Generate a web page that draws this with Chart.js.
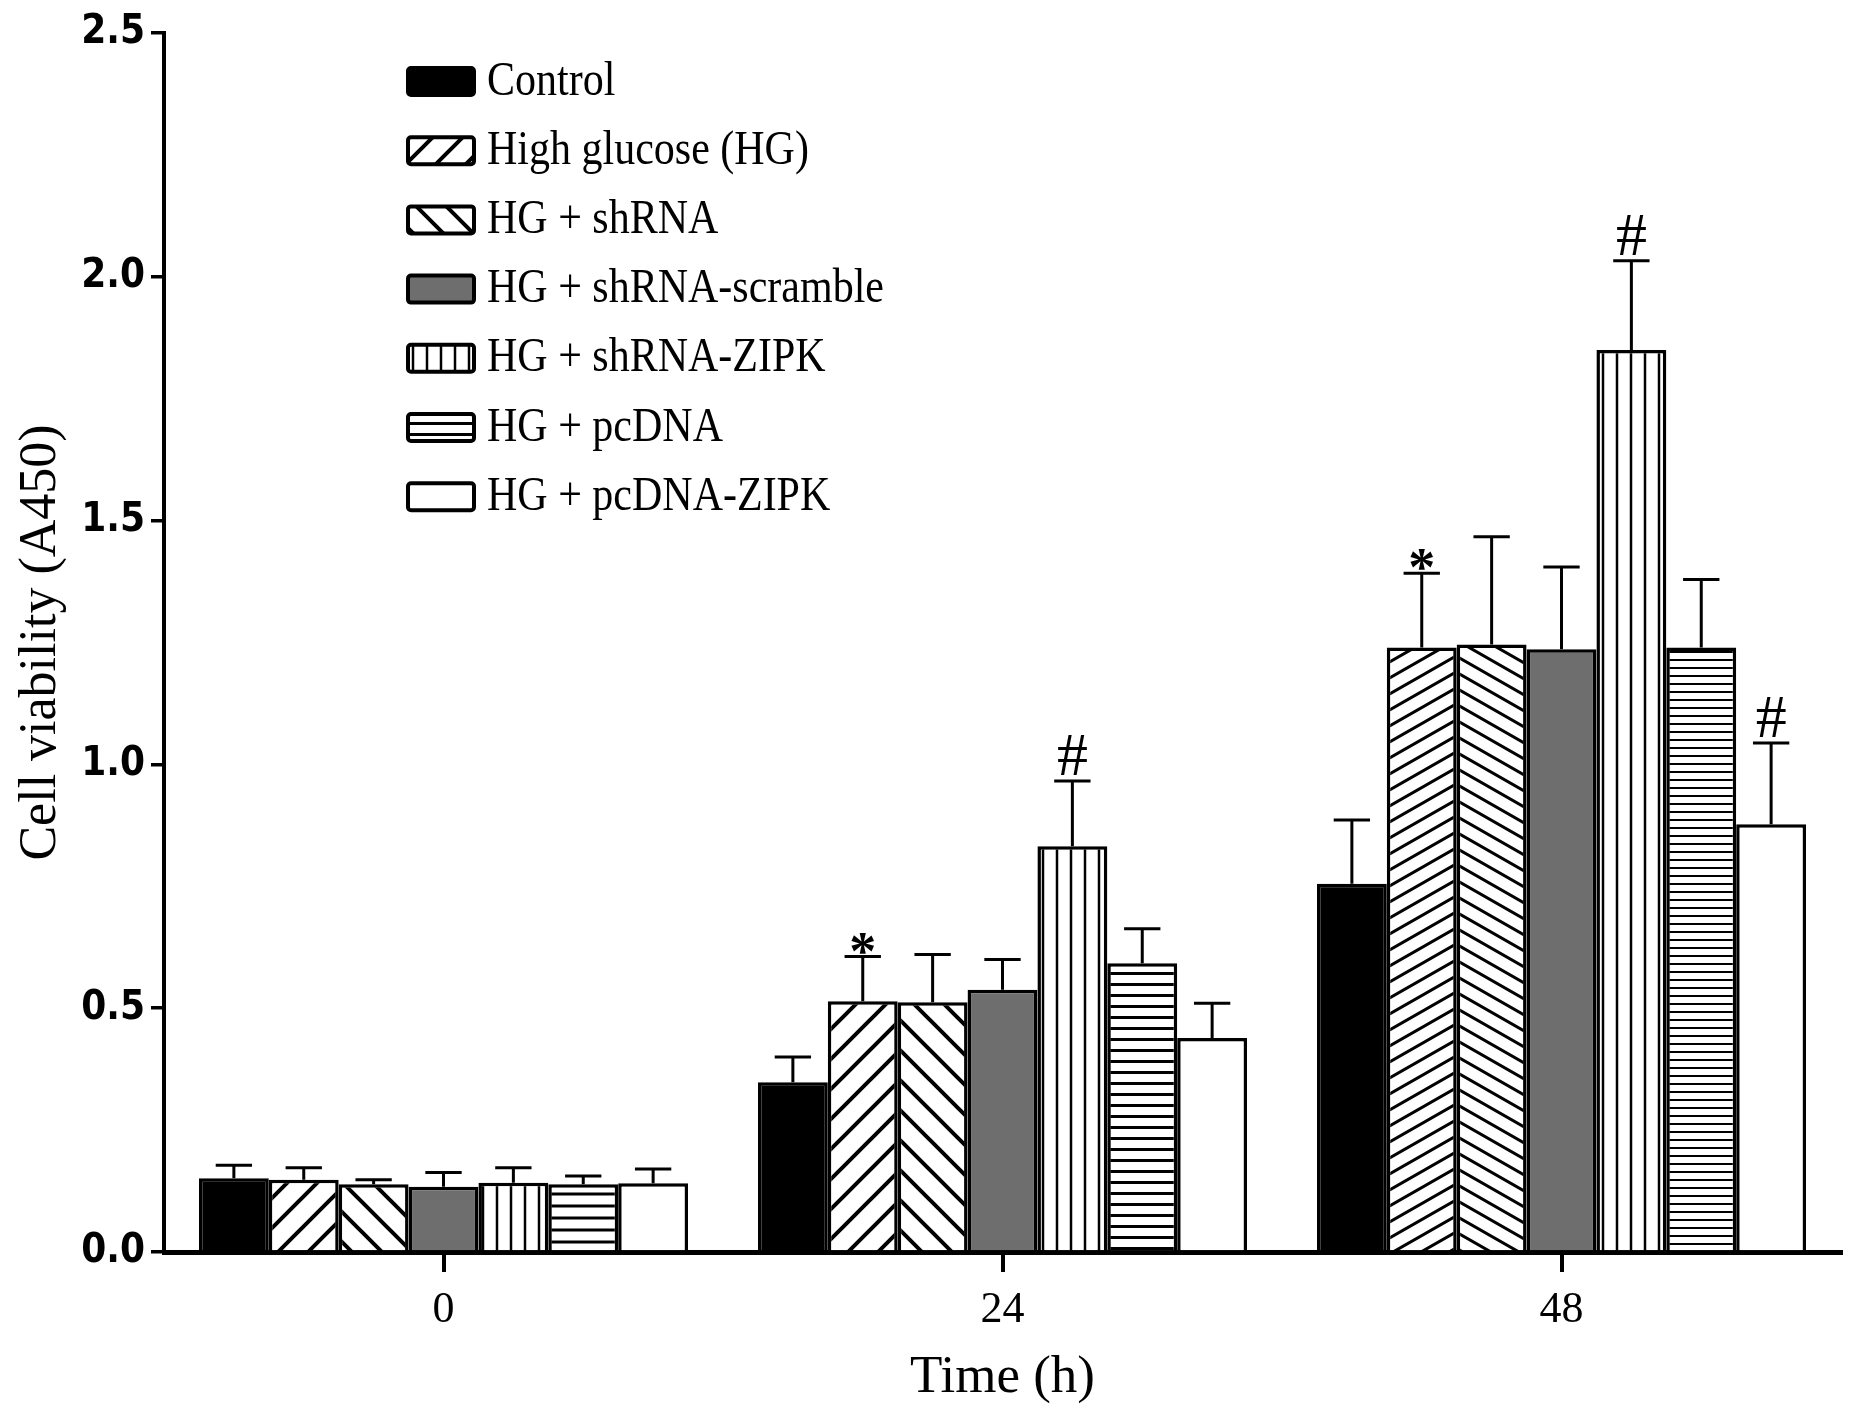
<!DOCTYPE html>
<html>
<head>
<meta charset="utf-8">
<title>Cell viability (A450)</title>
<script src="https://cdn.jsdelivr.net/npm/chart.js@4.4.1/dist/chart.umd.min.js"></script>
<style>
    html, body { margin: 0; padding: 0; background: #fff; }
    #wrap { width: 1857px; height: 1416px; }
</style>
</head>
<body>
<div id="wrap"><canvas id="viabilityChart"></canvas></div>
<script>
// Values (mean, and the upper error = SD)
const timePoints = ['0', '24', '48'];
const seriesNames = ['Control', 'High glucose (HG)', 'HG + shRNA', 'HG + shRNA-scramble',
                     'HG + shRNA-ZIPK', 'HG + pcDNA', 'HG + pcDNA-ZIPK'];

const control     = [0.151, 0.348, 0.755];
const highGlucose = [0.148, 0.514, 1.240];
const hgShRNA     = [0.139, 0.512, 1.246];
const hgScramble  = [0.134, 0.538, 1.236];
const hgShZIPK    = [0.142, 0.832, 1.850];
const hgPcDNA     = [0.139, 0.592, 1.240];
const hgPcZIPK    = [0.141, 0.439, 0.877];

const controlSD     = [0.027, 0.052, 0.131];
const highGlucoseSD = [0.025, 0.092, 0.152];
const hgShRNASD     = [0.009, 0.098, 0.221];
const hgScrambleSD  = [0.029, 0.062, 0.169];
const hgShZIPKSD    = [0.031, 0.134, 0.183];
const hgPcDNASD     = [0.017, 0.071, 0.139];
const hgPcZIPKSD    = [0.029, 0.071, 0.167];

// significance marks per series and time point
const highGlucoseMarks = ['', '*', '*'];
const hgShZIPKMarks    = ['', '#', '#'];
const hgPcZIPKMarks    = ['', '', '#'];

const yTicks = [0, 0.5, 1.0, 1.5, 2.0, 2.5];

const seriesValues = [control, highGlucose, hgShRNA, hgScramble, hgShZIPK, hgPcDNA, hgPcZIPK];
const seriesSD = [controlSD, highGlucoseSD, hgShRNASD, hgScrambleSD, hgShZIPKSD, hgPcDNASD, hgPcZIPKSD];
const seriesMarks = [[], highGlucoseMarks, [], [], hgShZIPKMarks, [], hgPcZIPKMarks];

const canvas = document.getElementById('viabilityChart');
const ctx = canvas.getContext('2d');

const serif = '"Liberation Serif", "Times New Roman", serif';

// build a black-on-white hatch pattern
function hatch(kind, w, h, lw, bg) {
    const c = document.createElement('canvas');
    c.width = w;
    c.height = h;
    const g = c.getContext('2d');
    g.fillStyle = bg || '#fff';
    g.fillRect(0, 0, w, h);
    g.strokeStyle = '#000';
    g.lineWidth = lw;
    g.beginPath();
    if (kind === 'vertical') {
        g.moveTo(w / 2, 0); g.lineTo(w / 2, h);
    } else if (kind === 'horizontal') {
        g.moveTo(0, h / 2); g.lineTo(w, h / 2);
    } else {
        for (let k = -2; k <= 2; k++) {
            if (kind === 'up') {
                g.moveTo(-w, 2 * h + k * h); g.lineTo(2 * w, -h + k * h);
            } else {
                g.moveTo(-w, -h + k * h); g.lineTo(2 * w, 2 * h + k * h);
            }
        }
    }
    g.stroke();
    return ctx.createPattern(c, 'repeat');
}

// one fill per time point (the 48 h group is drawn with a denser hatch)
const fills = [
    ['#000', '#000', '#000'],
    [hatch('up', 30, 30, 4), hatch('up', 30, 30, 4), hatch('up', 28, 16, 3)],
    [hatch('down', 30, 30, 4), hatch('down', 30, 30, 4), hatch('down', 28, 16, 3)],
    ['#6e6e6e', '#6e6e6e', '#6e6e6e'],
    [hatch('vertical', 14, 10, 2.5), hatch('vertical', 14, 10, 2.5), hatch('vertical', 14, 10, 2.5)],
    [hatch('horizontal', 10, 12, 3), hatch('horizontal', 10, 11, 3), hatch('horizontal', 10, 8, 2)],
    ['#fff', '#fff', '#fff']
];

const datasets = seriesNames.map((name, i) => ({
    label: name,
    data: seriesValues[i],
    backgroundColor: fills[i],
    borderColor: '#000',
    borderWidth: 3.5,
    borderSkipped: 'start'
}));

// error bars: upward whisker with a cap
const errorBars = {
    id: 'errorBars',
    afterDatasetsDraw(chart) {
        const c = chart.ctx;
        const yScale = chart.scales.y;
        c.save();
        c.strokeStyle = '#000';
        c.lineWidth = 3;
        chart.data.datasets.forEach((ds, i) => {
            const meta = chart.getDatasetMeta(i);
            meta.data.forEach((bar, j) => {
                const top = yScale.getPixelForValue(seriesValues[i][j] + seriesSD[i][j]);
                const half = bar.width * 0.26;
                c.beginPath();
                c.moveTo(bar.x, bar.y);
                c.lineTo(bar.x, top);
                c.moveTo(bar.x - half, top);
                c.lineTo(bar.x + half, top);
                c.stroke();
            });
        });
        c.restore();
    }
};

// * and # above the error caps
const sigMarks = {
    id: 'sigMarks',
    afterDatasetsDraw(chart) {
        const c = chart.ctx;
        const yScale = chart.scales.y;
        c.save();
        c.fillStyle = '#000';
        c.textAlign = 'center';
        c.textBaseline = 'alphabetic';
        seriesMarks.forEach((marks, i) => {
            const meta = chart.getDatasetMeta(i);
            marks.forEach((m, j) => {
                if (!m) return;
                const top = yScale.getPixelForValue(seriesValues[i][j] + seriesSD[i][j]);
                if (m === '*') {
                    c.font = 'bold 54px ' + serif;
                    c.fillText(m, meta.data[j].x, top + 12);
                } else {
                    c.font = '62px ' + serif;
                    c.fillText(m, meta.data[j].x, top - 6);
                }
            });
        });
        c.restore();
    }
};

// vertical legend inside the plot, top left
const boxLegend = {
    id: 'boxLegend',
    afterDraw(chart) {
        const c = chart.ctx;
        const area = chart.chartArea;
        const x0 = area.left + 244;
        const y0 = area.top + 48;
        c.save();
        c.font = '42px ' + serif;
        c.textBaseline = 'middle';
        c.textAlign = 'left';
        chart.data.datasets.forEach((ds, i) => {
            const y = y0 + i * 69.2;
            c.beginPath();
            c.roundRect(x0, y - 13, 66, 27, 3);
            c.fillStyle = ds.backgroundColor[1];
            c.fill();
            c.lineWidth = 4;
            c.strokeStyle = '#000';
            c.stroke();
            // the figure's lettering is a little taller than wide
            c.save();
            c.translate(x0 + 79, y + 1);
            c.scale(1, 1.15);
            c.fillStyle = '#000';
            c.fillText(ds.label, 0, 0);
            c.restore();
        });
        c.restore();
    }
};

new Chart(ctx, {
    type: 'bar',
    data: {
        labels: timePoints,
        datasets: datasets
    },
    options: {
        responsive: true,
        maintainAspectRatio: false,
        animation: false,
        layout: {
            padding: { top: 33, right: 16, left: 0, bottom: 0 }
        },
        datasets: {
            bar: { categoryPercentage: 0.875, barPercentage: 1.0 }
        },
        plugins: {
            legend: { display: false },
            tooltip: { enabled: false }
        },
        scales: {
            x: {
                z: 1,
                grid: {
                    drawOnChartArea: false,
                    offset: false,
                    tickLength: 20,
                    lineWidth: 4,
                    color: '#000'
                },
                border: { display: true, width: 5, color: '#000' },
                ticks: {
                    color: '#000',
                    padding: 12,
                    font: { family: serif, size: 44 }
                },
                title: {
                    display: true,
                    text: 'Time (h)',
                    color: '#000',
                    padding: { top: 0, bottom: 6 },
                    font: { family: serif, size: 53 }
                },
                afterFit(scale) { scale.height = 164; }
            },
            y: {
                min: 0,
                max: 2.5,
                afterBuildTicks(scale) {
                    scale.ticks = yTicks.map(v => ({ value: v }));
                },
                ticks: {
                    color: '#000',
                    padding: 6,
                    callback: v => Number(v).toFixed(1),
                    font: { family: '"Liberation Sans Narrow", "DejaVu Sans Condensed", "Arial Narrow", sans-serif', size: 40, weight: 'bold' }
                },
                grid: {
                    drawOnChartArea: false,
                    tickLength: 13,
                    lineWidth: 3.5,
                    color: '#000'
                },
                border: { display: true, width: 4, color: '#000' },
                title: {
                    display: true,
                    text: 'Cell viability (A450)',
                    color: '#000',
                    padding: { top: 10, bottom: 0 },
                    font: { family: serif, size: 52 }
                },
                afterFit(scale) { scale.width = 164; }
            }
        }
    },
    plugins: [errorBars, sigMarks, boxLegend]
});
</script>
</body>
</html>
